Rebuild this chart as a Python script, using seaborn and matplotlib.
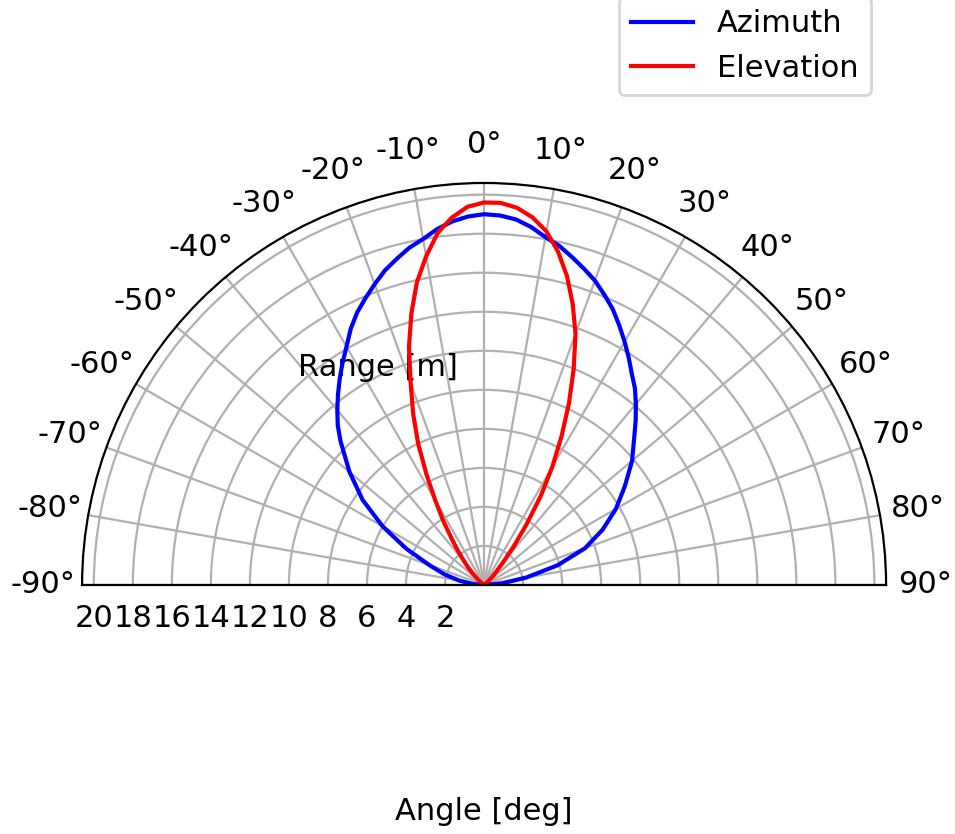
import numpy as np
import pandas as pd
import matplotlib.pyplot as plt
import seaborn as sns

# sample angles (deg): 5 deg steps at the edges, 2.5 deg in the middle
angles_deg = ([-90, -85, -80, -75, -70, -65, -60, -55, -50]
              + [-45, -42.5, -40, -37.5, -35, -32.5, -30, -27.5, -25, -22.5,
                 -20, -17.5, -15, -12.5, -10, -7.5, -5, -2.5, 0,
                 2.5, 5, 7.5, 10, 12.5, 15, 17.5, 20, 22.5, 25, 27.5,
                 30, 32.5, 35, 37.5, 40, 42.5, 45]
              + [50, 55, 60, 65, 70, 75, 80, 85, 90])

# ranges (m)
azimuth_range = ([0.0, 0.6, 1.3, 2.1, 3.0, 4.4, 6.0, 7.6, 9.0]
                 + [10.4, 11.1, 11.7, 12.3, 12.9, 13.5, 14.1, 14.8, 15.4, 15.9,
                    16.4, 16.9, 17.3, 17.7, 18.0, 18.4, 18.7, 18.9, 19.0,
                    18.95, 18.8, 18.5, 18.1, 17.8, 17.4, 17.0, 16.6, 16.1, 15.6, 15.0,
                    14.4, 13.8, 13.2, 12.7, 12.1, 11.5, 10.9]
                 + [9.9, 8.8, 7.8, 6.7, 5.5, 3.9, 2.2, 0.9, 0.0])
elevation_range = ([0.0, 0.0, 0.0, 0.0, 0.0, 0.0, 0.0, 0.0, 0.3]
                   + [0.8, 1.2, 1.6, 2.2, 2.9, 3.9, 5.0, 6.4, 8.0, 9.5,
                      11.0, 12.8, 14.4, 15.9, 17.1, 18.2, 18.9, 19.4, 19.6,
                      19.6, 19.4, 19.0, 18.4, 17.5, 16.4, 15.1, 13.7, 12.0, 10.3, 8.6,
                      7.0, 5.4, 3.8, 2.5, 1.5, 0.9, 0.6]
                   + [0.2, 0.0, 0.0, 0.0, 0.0, 0.0, 0.0, 0.0, 0.0])
range_ticks = list(range(2, 21, 2))
angle_ticks = list(range(-90, 91, 10))

plt.rcParams['font.size'] = 11
plt.rcParams['axes.unicode_minus'] = False

df = pd.DataFrame({'theta': np.deg2rad(angles_deg),
                   'Azimuth': azimuth_range,
                   'Elevation': elevation_range})

fig = plt.figure(figsize=(4.775, 4.17), dpi=200)
ax = fig.add_axes([0.0859, 0.0576, 0.842, 0.964], projection='polar')

sns.lineplot(data=df, x='theta', y='Azimuth', ax=ax, color='b', label='Azimuth')
sns.lineplot(data=df, x='theta', y='Elevation', ax=ax, color='r', label='Elevation')

ax.set_theta_zero_location('N')
ax.set_theta_direction(-1)
ax.set_thetamin(-90)
ax.set_thetamax(90)
ax.set_rlim(0, 20.6)
ax.set_rticks(range_ticks)
ax.set_thetagrids(angle_ticks, labels=[f'{d}°' for d in angle_ticks])

ax.set_xlabel('Angle [deg]')
ax.set_ylabel('Range [m]', rotation=0, ha='center', va='center')
ax.yaxis.set_label_coords(0.368, 0.52)
ax.legend(loc='upper right')

fig.savefig('out.png', dpi=200)
